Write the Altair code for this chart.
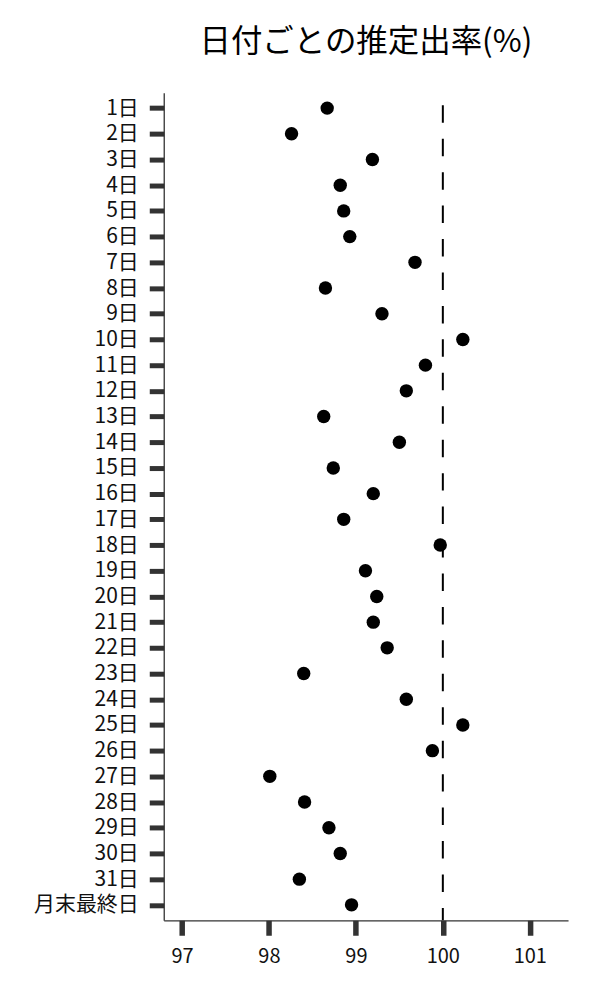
import altair as alt
import pandas as pd

days = [f"{i}日" for i in range(1, 32)] + ["月末最終日"]
rates = [98.67, 98.26, 99.19, 98.82, 98.86, 98.93, 99.68, 98.65, 99.30, 100.23,
         99.80, 99.58, 98.63, 99.50, 98.74, 99.20, 98.86, 99.97, 99.11, 99.24,
         99.20, 99.36, 98.40, 99.58, 100.23, 99.88, 98.01, 98.41, 98.69, 98.82,
         98.35, 98.95]
x_ticks = [97, 98, 99, 100, 101]
ref_value = [100]

FONT = "Noto Sans CJK JP"
W, H = 405, 829

df = pd.DataFrame({"day": days, "rate": rates})
ref = pd.DataFrame({"v": ref_value})

x_scale = alt.Scale(domain=[96.79, 101.44], nice=False, zero=False)

points = alt.Chart(df).mark_circle(size=180, color="black", opacity=1).encode(
    x=alt.X("rate:Q", scale=x_scale,
            axis=alt.Axis(values=x_ticks, format="d", title=None, grid=False,
                          labelFontSize=20, labelFont=FONT, labelColor="#111",
                          labelPadding=11, tickSize=15, tickWidth=5.5,
                          tickColor="#333", domainColor="#333", domainWidth=1.3,
                          labelFlush=False)),
    y=alt.Y("day:N", sort=days,
            scale=alt.Scale(type="point", padding=0.6),
            axis=alt.Axis(title=None, grid=False, labelFontSize=21, labelFont=FONT,
                          labelColor="#111", labelPadding=11, tickSize=14.5,
                          tickWidth=5, tickColor="#333", domainColor="#333",
                          domainWidth=1.3, labelOverlap=False)),
)

rule = alt.Chart(ref).mark_rule(color="black", strokeWidth=2,
                                strokeDash=[17.5, 16], strokeDashOffset=20.9).encode(
    x=alt.X("v:Q", scale=x_scale),
    y=alt.value(0),
    y2=alt.value(H),
)

chart = alt.layer(rule, points).properties(
    width=W, height=H,
    title=alt.TitleParams("日付ごとの推定出率(%)", font=FONT, fontSize=31.5,
                          fontWeight="normal", color="black", anchor="middle",
                          baseline="alphabetic", offset=8),
    autosize=alt.AutoSizeParams(type="none"),
    padding={"left": 156, "top": 84, "right": 24, "bottom": 70},
).configure(font=FONT).configure_view(stroke="transparent", strokeWidth=0)

chart.save("out.html", embed_options={"renderer": "svg", "actions": False})
